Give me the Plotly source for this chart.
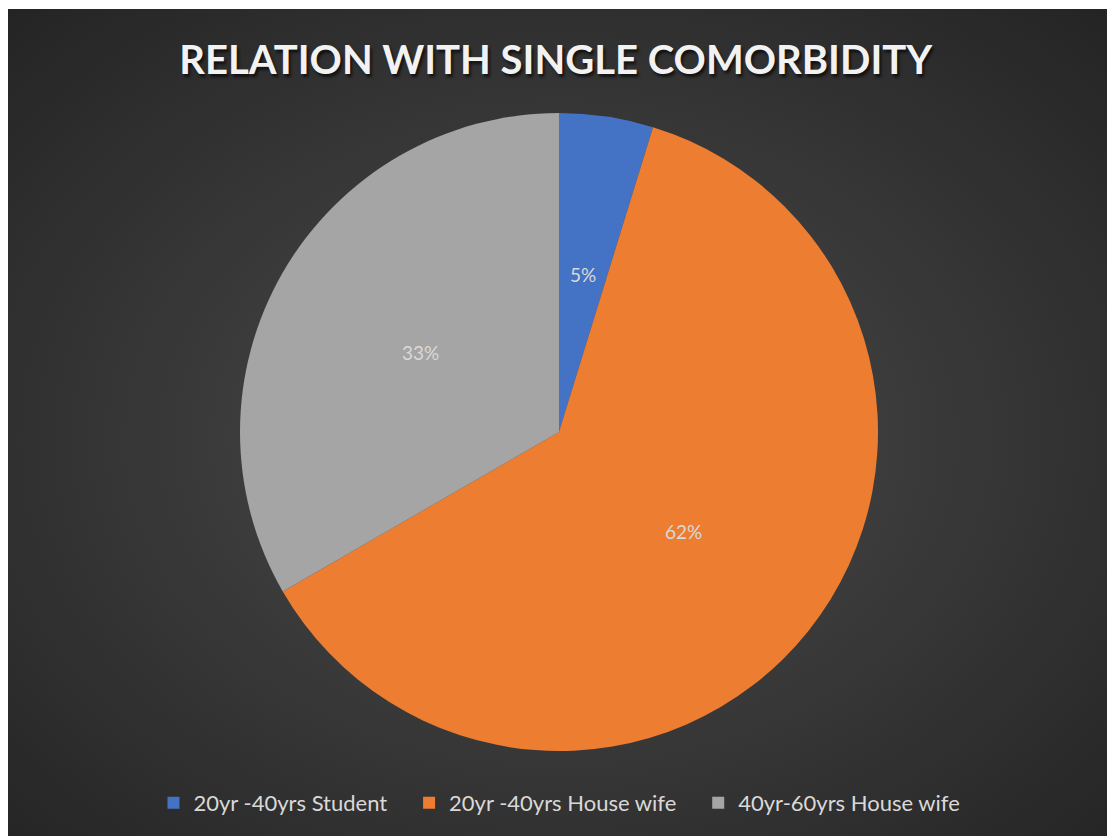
import base64
import math
import plotly.graph_objects as go

# Patient counts per group (single comorbidity)
groups = ["20yr -40yrs Student", "20yr -40yrs House wife", "40yr-60yrs House wife"]
counts = [1, 13, 7]
colors = ["#4472c4", "#ed7d31", "#a5a5a5"]

W, H = 1107, 836

# Legend entries get a little trailing room so the items spread out
legend_names = [g + "\u00a0" * 3 if i < len(groups) - 1 else g for i, g in enumerate(groups)]

# Dark radial-gradient panel behind the chart
svg = (
    "<svg xmlns='http://www.w3.org/2000/svg' width='1099' height='827'>"
    "<defs><radialGradient id='g' cx='50%' cy='52%' r='72%'>"
    "<stop offset='0%' stop-color='#4c4c4c'/>"
    "<stop offset='100%' stop-color='#242424'/>"
    "</radialGradient></defs>"
    "<rect width='1099' height='827' fill='url(#g)'/></svg>"
)
bg_uri = "data:image/svg+xml;base64," + base64.b64encode(svg.encode()).decode()

cx, cy, r = 559, 432, 319
dom_x = [(cx - r) / W, (cx + r) / W]
dom_y = [(H - cy - r) / H, (H - cy + r) / H]

fig = go.Figure(
    go.Pie(
        labels=legend_names,
        values=counts,
        sort=False,
        direction="clockwise",
        rotation=0,
        marker=dict(colors=colors, line=dict(width=0)),
        textinfo="none",
        domain=dict(x=dom_x, y=dom_y),
        customdata=groups,
        hovertemplate="%{customdata}<br>%{value} (%{percent})<extra></extra>",
    )
)

# Percentage labels at half radius along each slice's middle angle
total = sum(counts)
annotations = []
start = 0.0
for v in counts:
    frac = v / total
    mid = 2 * math.pi * (start + frac / 2)
    start += frac
    px = cx + 0.5 * r * math.sin(mid)
    py = cy - 0.5 * r * math.cos(mid)
    annotations.append(
        dict(
            text=f"{frac:.0%}",
            x=px / W, y=1 - py / H,
            xref="paper", yref="paper",
            xanchor="center", yanchor="middle",
            showarrow=False,
            font=dict(family="Lato", size=19, color="#d9d9d9"),
        )
    )

fig.update_layout(
    width=W,
    height=H,
    margin=dict(l=0, r=0, t=0, b=0),
    paper_bgcolor="white",
    plot_bgcolor="white",
    images=[
        dict(
            source=bg_uri,
            xref="paper", yref="paper",
            x=8 / W, y=1 - 9 / H,
            sizex=1099 / W, sizey=827 / H,
            xanchor="left", yanchor="top",
            sizing="stretch",
            layer="below",
        )
    ],
    annotations=annotations,
    title=dict(
        text="<b>RELATION WITH SINGLE COMORBIDITY</b>",
        x=0.502, xanchor="center",
        y=1 - 60 / H, yanchor="middle",
        font=dict(family="Lato", size=40, color="#f2f2f2",
                  shadow="2px 3px 3px rgba(0,0,0,0.65)"),
    ),
    showlegend=True,
    legend=dict(
        orientation="h",
        x=0.5054, xanchor="center",
        y=33 / H, yanchor="middle",
        font=dict(family="Lato", size=22, color="#d9d9d9"),
        bgcolor="rgba(0,0,0,0)",
        itemwidth=30,
    ),
)

fig.write_html("out.html")
